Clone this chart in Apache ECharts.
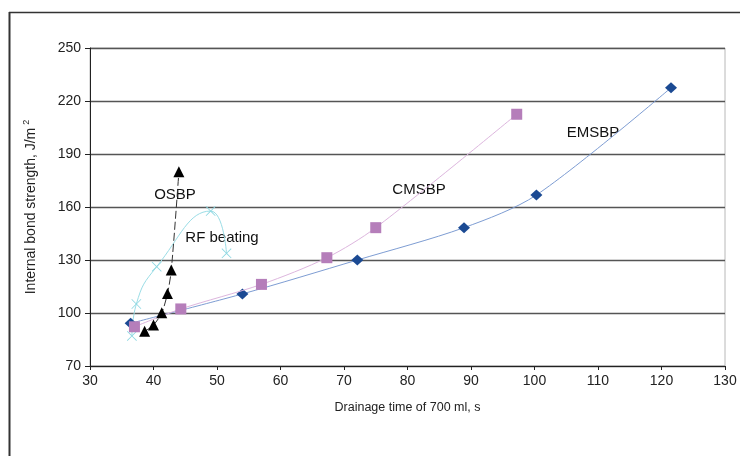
<!DOCTYPE html>
<html><head><meta charset="utf-8">
<script src="https://cdn.jsdelivr.net/npm/echarts@6/dist/echarts.min.js"></script>
<style>html,body{margin:0;padding:0;background:#fff}#c{width:740px;height:456px}</style>
</head><body><div id="c"></div>
<script>
// Data (x = drainage time of 700 ml, s ; y = internal bond strength, J/m2)
const xTicks = [30, 130, 10];   // min, max, interval
const yTicks = [70, 250, 30];
const emsbpX = [36.4, 54.0, 72.1, 88.9, 100.3, 121.5];
const emsbpY = [94.2, 110.8, 130.0, 148.3, 166.8, 227.5];
const cmsbpX = [37.0, 44.3, 57.0, 67.3, 75.0, 97.2];
const cmsbpY = [92.2, 102.3, 116.2, 131.3, 148.3, 212.5];
const osbpX = [38.6, 40.0, 41.3, 42.2, 42.8, 44.0];
const osbpY = [89.6, 93.2, 100.2, 111.0, 124.3, 180.0];
const rfX = [36.6, 37.3, 40.5, 49.0, 51.5];
const rfY = [87.0, 105.1, 126.2, 157.7, 133.8];
const seriesNames = ['EMSBP', 'CMSBP', 'OSBP', 'RF beating'];

const pairs = (xs, ys) => xs.map((x, i) => [x, ys[i]]);
const FONT = '"Liberation Sans", Arial, sans-serif';
const crossPath = 'path://M0,0.6L0.6,0L5,4.4L9.4,0L10,0.6L5.6,5L10,9.4L9.4,10L5,5.6L0.6,10L0,9.4L4.4,5Z';

const chart = echarts.init(document.getElementById('c'), null, {renderer: 'canvas'});
chart.setOption({
  animation: false,
  backgroundColor: '#fff',
  grid: {left: 90, right: 15, top: 48, bottom: 90, show: true, borderColor: '#b8b8b8', borderWidth: 1, backgroundColor: 'transparent'},
  xAxis: {
    type: 'value', min: xTicks[0], max: xTicks[1], interval: xTicks[2],
    name: 'Drainage time of 700 ml, s', nameLocation: 'middle', nameGap: 35,
    nameTextStyle: {fontFamily: FONT, fontSize: 12.5, color: '#222'},
    axisLine: {onZero: false, lineStyle: {color: '#222', width: 1}},
    axisTick: {show: true, length: 4, lineStyle: {color: '#222'}},
    axisLabel: {fontFamily: FONT, fontSize: 14, color: '#222', margin: 8},
    splitLine: {show: false}
  },
  yAxis: {
    type: 'value', min: yTicks[0], max: yTicks[1], interval: yTicks[2],
    name: '{a|Internal bond strength, J/m}{s|2}', nameLocation: 'middle', nameGap: 50,
    nameTextStyle: {fontFamily: FONT, fontSize: 14, color: '#222',
      rich: {a: {fontFamily: FONT, fontSize: 14, color: '#222'},
             s: {fontFamily: FONT, fontSize: 9, color: '#222', verticalAlign: 'top', padding: [0, 0, 9, 3]}}},
    axisLine: {show: true, lineStyle: {color: '#222', width: 1}},
    axisTick: {show: true, length: 5, lineStyle: {color: '#222'}},
    axisLabel: {fontFamily: FONT, fontSize: 14, color: '#222', margin: 9},
    splitLine: {show: true, lineStyle: {color: '#555', width: 1.3}}
  },
  series: [
    {name: seriesNames[0], type: 'line', data: pairs(emsbpX, emsbpY), smooth: 0.3,
     symbol: 'diamond', symbolSize: [12, 11], itemStyle: {color: '#1B4A93'},
     lineStyle: {color: '#7E9DD3', width: 1}, z: 4},
    {name: seriesNames[1], type: 'line', data: pairs(cmsbpX, cmsbpY), smooth: 0.3,
     symbol: 'rect', symbolSize: 11, itemStyle: {color: '#B57EBA'},
     lineStyle: {color: '#DDB6DE', width: 1}, z: 5},
    {name: seriesNames[2], type: 'line', data: pairs(osbpX, osbpY), smooth: 0.3,
     symbol: 'triangle', symbolSize: 11, itemStyle: {color: '#000'},
     lineStyle: {color: '#333', width: 1, type: [8, 3]}, z: 6},
    {name: seriesNames[3], type: 'line', data: pairs(rfX, rfY), smooth: 0.5,
     symbol: crossPath, symbolSize: 10, itemStyle: {color: '#8FD8E2'},
     lineStyle: {color: '#9ADDE6', width: 1}, z: 3}
  ],
  graphic: [
    {type: 'line', shape: {x1: 9.5, y1: 12, x2: 9.5, y2: 456}, style: {stroke: '#333', lineWidth: 2}},
    {type: 'line', shape: {x1: 9, y1: 12.5, x2: 740, y2: 12.5}, style: {stroke: '#333', lineWidth: 1.5}},
    {type: 'text', x: 175, y: 195, style: {text: 'OSBP', font: '15px ' + FONT, fill: '#111', textAlign: 'center', textVerticalAlign: 'middle'}},
    {type: 'text', x: 222, y: 238, style: {text: 'RF beating', font: '15px ' + FONT, fill: '#111', textAlign: 'center', textVerticalAlign: 'middle'}},
    {type: 'text', x: 419, y: 190, style: {text: 'CMSBP', font: '15px ' + FONT, fill: '#111', textAlign: 'center', textVerticalAlign: 'middle'}},
    {type: 'text', x: 593, y: 133, style: {text: 'EMSBP', font: '15px ' + FONT, fill: '#111', textAlign: 'center', textVerticalAlign: 'middle'}}
  ]
});
</script></body></html>
